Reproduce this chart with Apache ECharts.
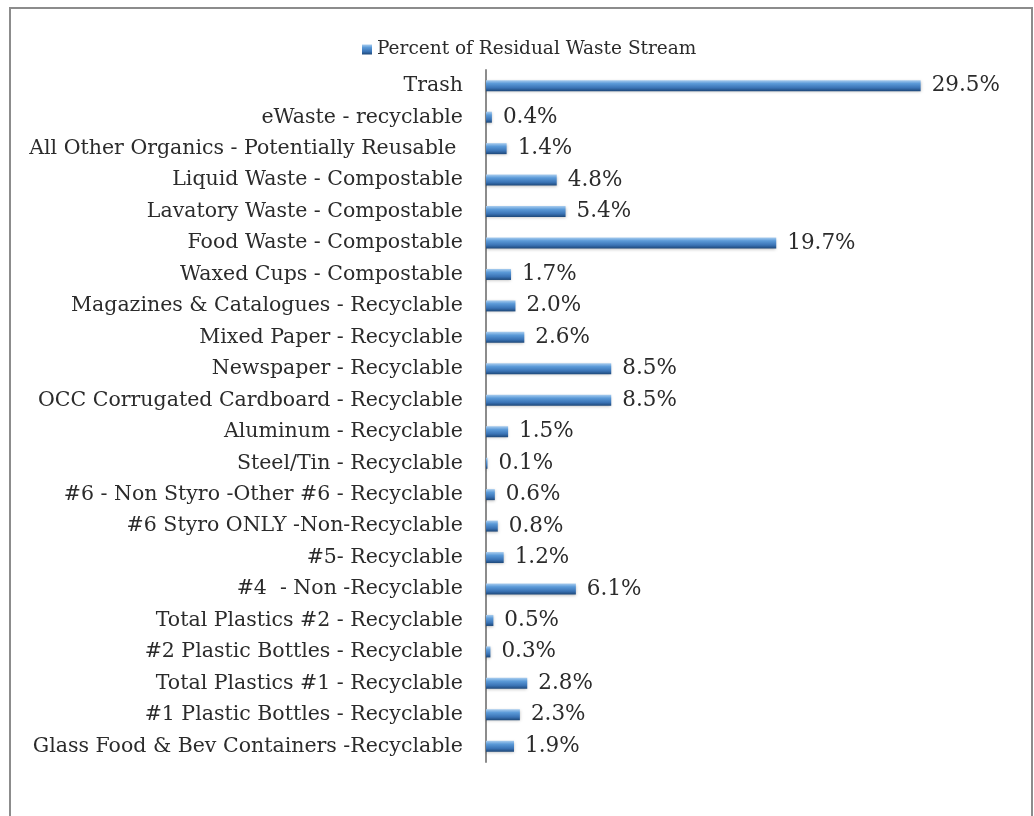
<!DOCTYPE html>
<html>
<head>
<meta charset="utf-8">
<script src="https://cdn.jsdelivr.net/npm/echarts@6/dist/echarts.min.js"></script>
<style>
  html, body { margin: 0; padding: 0; background: #fff; }
  #chart { width: 1034px; height: 816px; }
</style>
</head>
<body>
<div id="chart"></div>
<script>
// categories top to bottom, as in the picture
const categories = [
  'Trash',
  'eWaste - recyclable',
  'All Other Organics - Potentially Reusable ',
  'Liquid Waste - Compostable',
  'Lavatory Waste - Compostable',
  'Food Waste - Compostable',
  'Waxed Cups - Compostable',
  'Magazines & Catalogues - Recyclable',
  'Mixed Paper - Recyclable',
  'Newspaper - Recyclable',
  'OCC Corrugated Cardboard - Recyclable',
  'Aluminum - Recyclable',
  'Steel/Tin - Recyclable',
  '#6 - Non Styro -Other #6 - Recyclable',
  '#6 Styro ONLY -Non-Recyclable',
  '#5- Recyclable',
  '#4  - Non -Recyclable',
  'Total Plastics #2 - Recyclable',
  '#2 Plastic Bottles - Recyclable',
  'Total Plastics #1 - Recyclable',
  '#1 Plastic Bottles - Recyclable',
  'Glass Food & Bev Containers -Recyclable'
]

const percentValues = [
  29.5, 0.4, 1.4, 4.8, 5.4, 19.7, 1.7, 2.0, 2.6, 8.5, 8.5,
  1.5, 0.1, 0.6, 0.8, 1.2, 6.1, 0.5, 0.3, 2.8, 2.3, 1.9
]

const seriesName = 'Percent of Residual Waste Stream'

const serif = '"DejaVu Serif", "Liberation Serif", serif'

const barFill = new echarts.graphic.LinearGradient(0, 0, 0, 1, [
  { offset: 0, color: '#a9cdef' },
  { offset: 0.3, color: '#5b9ad8' },
  { offset: 0.7, color: '#3a73b5' },
  { offset: 1, color: '#1d4778' }
])

const chart = echarts.init(document.getElementById('chart'))

chart.setOption({
  animation: false,
  textStyle: { fontFamily: serif },
  graphic: [{
    type: 'rect',
    shape: { x: 10, y: 8, width: 1022, height: 830 },
    style: { fill: 'none', stroke: '#8c8c8c', lineWidth: 2 },
    z: 100
  }],
  legend: {
    top: 35,
    left: 357,
    itemWidth: 10,
    itemHeight: 10,
    itemGap: 5,
    icon: 'rect',
    textStyle: { fontFamily: serif, fontSize: 18.5, color: '#2b2b2b' },
    data: [seriesName]
  },
  grid: {
    left: 486,
    right: 106,
    top: 70,
    bottom: 54,
    containLabel: false
  },
  xAxis: {
    type: 'value',
    min: 0,
    max: 30,
    show: false
  },
  yAxis: {
    type: 'category',
    inverse: true,
    data: categories,
    axisLine: { show: true, lineStyle: { color: '#8c8c8c', width: 2 } },
    axisTick: { show: false },
    axisLabel: {
      margin: 23,
      fontFamily: serif,
      fontSize: 20.5,
      color: '#2b2b2b'
    }
  },
  series: [{
    name: seriesName,
    type: 'bar',
    data: percentValues,
    barWidth: 11,
    itemStyle: {
      color: barFill,
      shadowColor: 'rgba(0,0,0,0.25)',
      shadowBlur: 3,
      shadowOffsetY: 1
    },
    label: {
      show: true,
      position: 'right',
      distance: 11,
      fontFamily: serif,
      fontSize: 21.5,
      color: '#2b2b2b',
      formatter: p => p.value.toFixed(1) + '%'
    }
  }]
})

window.addEventListener('resize', () => chart.resize())
</script>
</body>
</html>
